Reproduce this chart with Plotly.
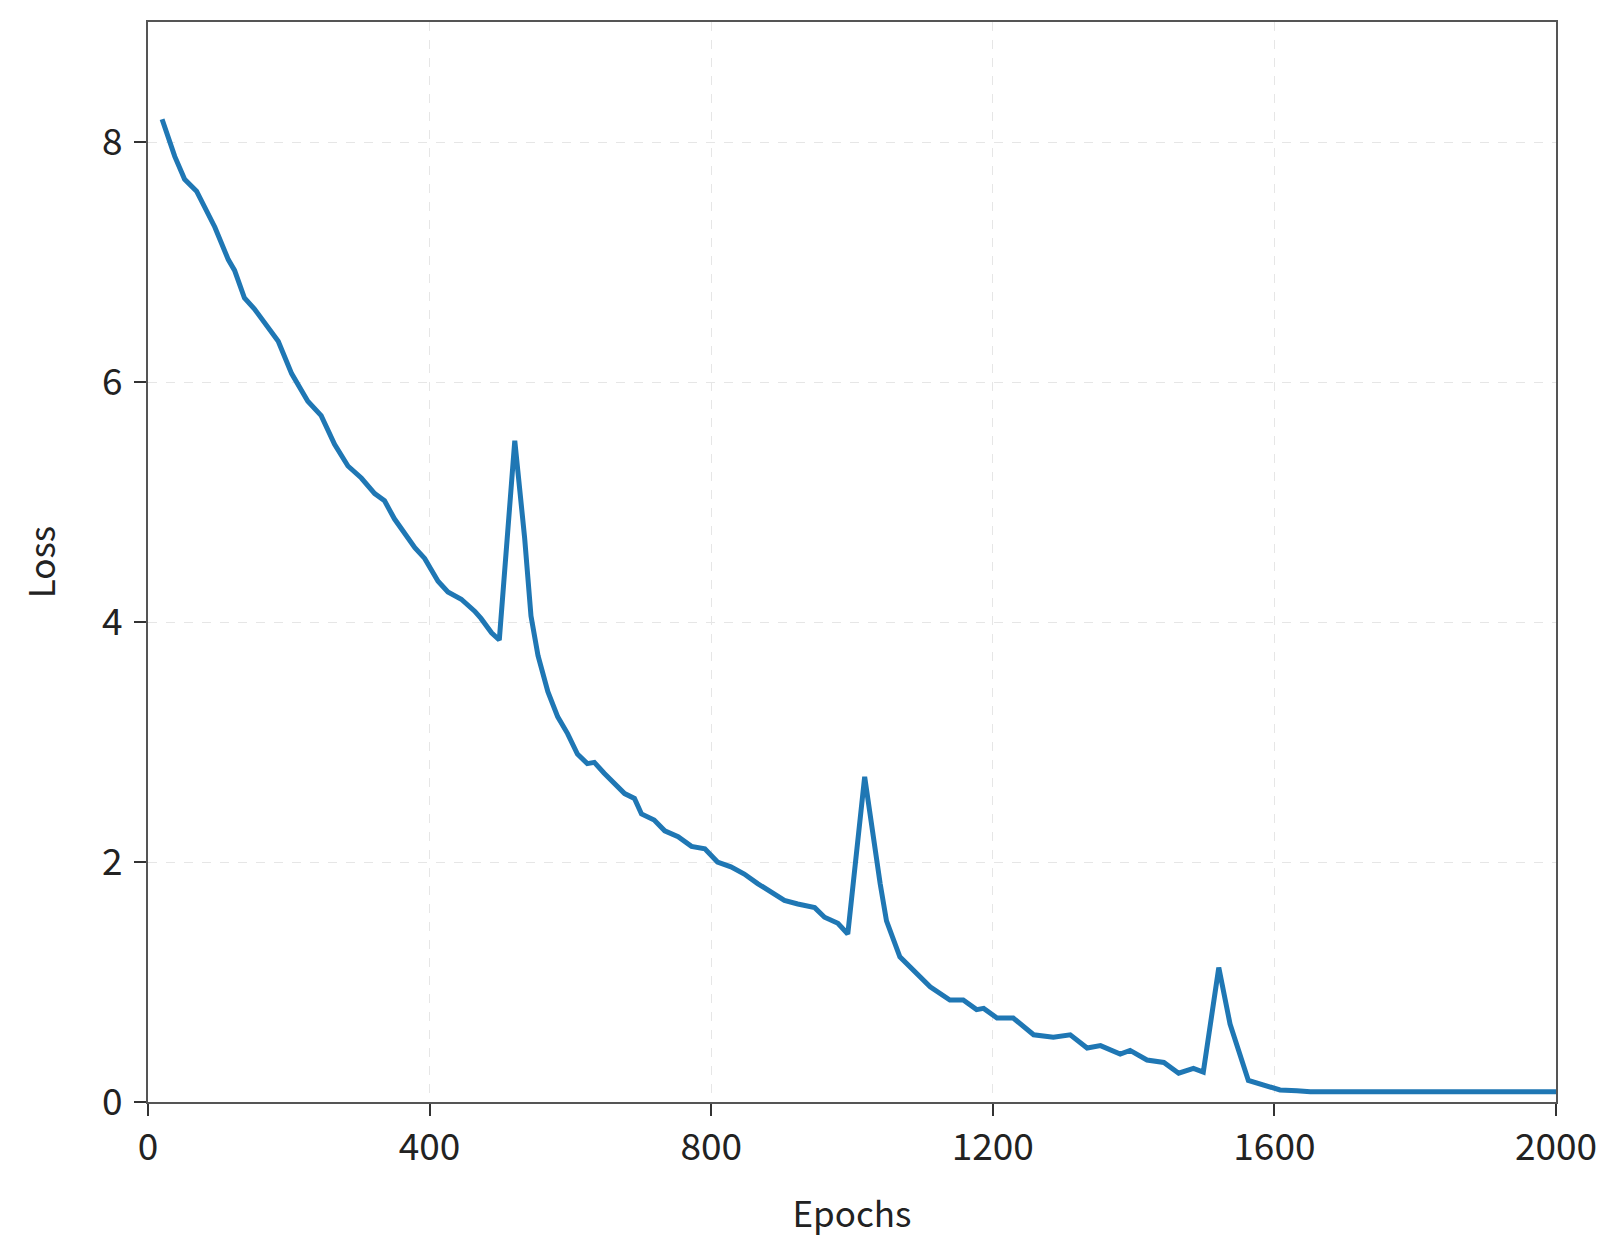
import plotly.graph_objects as go

epochs = [20, 38, 52, 69, 95, 114, 123, 137, 151, 185,
          204, 227, 246, 265, 284, 303, 322, 336, 350, 379,
          393, 412, 426, 445, 464, 473, 488, 499, 521,
          535, 544, 554, 568, 582, 596, 610, 624, 634, 648,
          663, 677, 691, 701, 719, 734, 753, 772, 791, 809,
          828, 847, 866, 885, 904, 923, 947, 961, 980, 994, 1018,
          1040, 1049, 1068, 1087, 1111, 1139, 1158, 1177, 1187, 1206,
          1229, 1258, 1286, 1310, 1334, 1353, 1381, 1395, 1419, 1443,
          1464, 1485, 1499, 1521,
          1537, 1563, 1584, 1608, 1632, 1651, 1700, 1800, 1900, 2000]

loss = [8.19, 7.88, 7.69, 7.59, 7.29, 7.02, 6.93, 6.70, 6.61, 6.34,
        6.07, 5.84, 5.72, 5.48, 5.30, 5.20, 5.07, 5.01, 4.86, 4.62,
        4.53, 4.34, 4.25, 4.19, 4.09, 4.03, 3.91, 3.85, 5.51,
        4.70, 4.05, 3.72, 3.42, 3.21, 3.07, 2.90, 2.82, 2.83, 2.74,
        2.65, 2.57, 2.53, 2.40, 2.35, 2.26, 2.21, 2.13, 2.11, 2.00,
        1.96, 1.90, 1.82, 1.75, 1.68, 1.65, 1.62, 1.54, 1.49, 1.40, 2.71,
        1.82, 1.51, 1.21, 1.10, 0.96, 0.85, 0.85, 0.77, 0.78, 0.70,
        0.70, 0.56, 0.54, 0.56, 0.45, 0.47, 0.40, 0.43, 0.35, 0.33,
        0.24, 0.28, 0.25, 1.12,
        0.65, 0.18, 0.14, 0.10, 0.094, 0.086, 0.085, 0.085, 0.085, 0.085]

x_ticks = [0, 400, 800, 1200, 1600, 2000]
y_ticks = [0, 2, 4, 6, 8]

fig = go.Figure()
fig.add_trace(go.Scatter(x=epochs, y=loss, mode="lines",
                         line=dict(color="#1f77b4", width=5),
                         showlegend=False))

axis_common = dict(
    showline=True, mirror=True, linecolor="#555555", linewidth=2,
    ticks="outside", ticklen=12, tickwidth=2, tickcolor="#333333",
    showgrid=True, gridcolor="#e6e6e6", gridwidth=1, griddash="dash",
    zeroline=False,
    tickfont=dict(family="Noto Sans CJK JP", size=37, color="#222222"),
)

fig.update_layout(
    width=1604, height=1247,
    margin=dict(l=140, r=56, t=12, b=153),
    paper_bgcolor="white", plot_bgcolor="white",
    xaxis=dict(range=[0, 2000], tickvals=x_ticks,
               title=dict(text="Epochs", standoff=32,
                          font=dict(family="Noto Sans CJK JP", size=35, color="#222222")),
               **axis_common),
    yaxis=dict(range=[0, 9], tickvals=y_ticks,
               title=dict(text="Loss", standoff=36,
                          font=dict(family="Noto Sans CJK JP", size=35, color="#222222")),
               ticklabelstandoff=4,
               **axis_common),
)

fig.write_html("out.html")
